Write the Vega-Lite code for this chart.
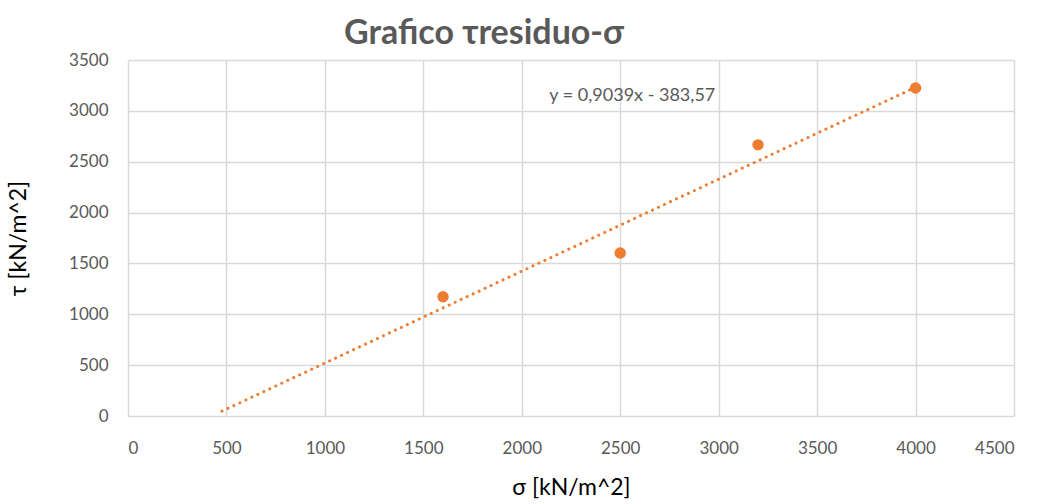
{
  "$schema": "https://vega.github.io/schema/vega-lite/v6.json",
  "autosize": "none",
  "width": 886,
  "height": 356,
  "padding": {"left": 128, "top": 60, "right": 24, "bottom": 88},
  "background": "white",
  "title": {
    "text": "Grafico τresiduo-σ",
    "font": "Lato",
    "fontSize": 34,
    "fontWeight": "bold",
    "color": "#595959",
    "anchor": "middle",
    "offset": 0,
    "dx": -87
  },
  "config": {
    "view": {"stroke": null},
    "font": "Lato",
    "axis": {
      "gridColor": "#D9D9D9",
      "gridWidth": 1.5,
      "domain": false,
      "ticks": false,
      "labelColor": "#595959",
      "labelFont": "Lato",
      "labelFontSize": 17,
      "titleFont": "Lato",
      "titleFontSize": 23,
      "titleFontWeight": "normal",
      "titleColor": "#000000"
    }
  },
  "datasets": {
    "points": [
      {"sigma": 1600, "tau": 1172},
      {"sigma": 2500, "tau": 1602},
      {"sigma": 3200, "tau": 2666},
      {"sigma": 4000, "tau": 3225}
    ],
    "trend": [
      {"sigma": 477, "tau": 47.6},
      {"sigma": 4000, "tau": 3232.0}
    ],
    "label": [
      {"sigma": 2140, "tau": 3150, "text": "y = 0,9039x - 383,57"}
    ]
  },
  "layer": [
    {
      "data": {"name": "trend"},
      "mark": {"type": "line", "color": "#ED7D31", "strokeWidth": 3, "strokeDash": [0.1, 6.5], "strokeCap": "round"},
      "encoding": {
        "x": {"field": "sigma", "type": "quantitative", "scale": {"domain": [0, 4500]},
          "axis": {"values": [0,500,1000,1500,2000,2500,3000,3500,4000,4500], "format": "d", "title": "σ [kN/m^2]", "labelPadding": 24, "titlePadding": 20}},
        "y": {"field": "tau", "type": "quantitative", "scale": {"domain": [0, 3500]},
          "axis": {"values": [0,500,1000,1500,2000,2500,3000,3500], "format": "d", "title": "τ [kN/m^2]", "labelPadding": 20, "titlePadding": 38}}
      }
    },
    {
      "data": {"name": "points"},
      "mark": {"type": "circle", "color": "#ED7D31", "opacity": 1, "size": 130},
      "encoding": {
        "x": {"field": "sigma", "type": "quantitative"},
        "y": {"field": "tau", "type": "quantitative"}
      }
    },
    {
      "data": {"name": "label"},
      "mark": {"type": "text", "align": "left", "baseline": "middle", "fontSize": 18, "color": "#595959", "font": "Lato"},
      "encoding": {
        "x": {"field": "sigma", "type": "quantitative"},
        "y": {"field": "tau", "type": "quantitative"},
        "text": {"field": "text"}
      }
    }
  ]
}
